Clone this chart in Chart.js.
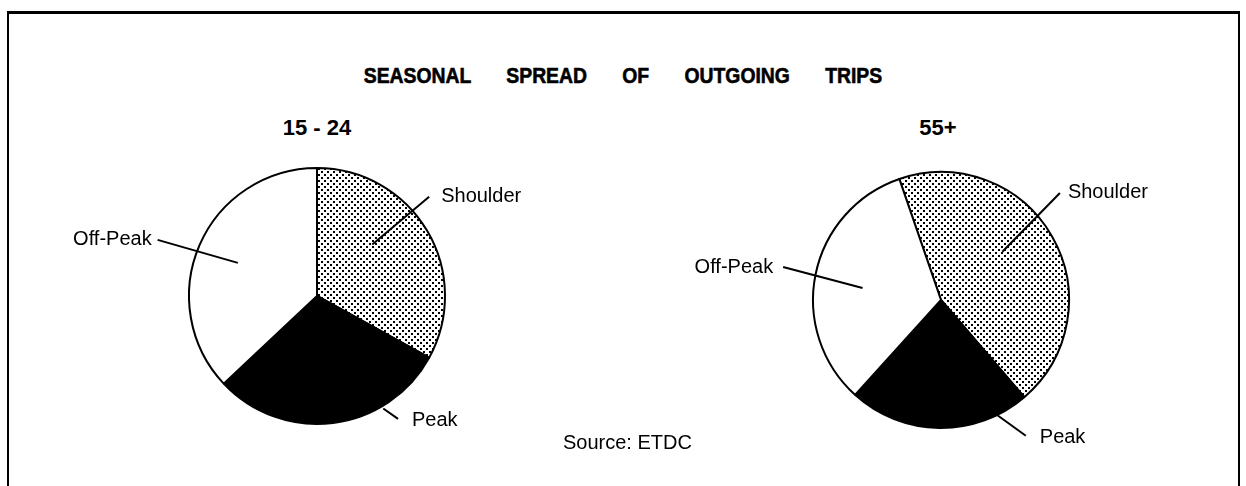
<!DOCTYPE html>
<html>
<head>
<meta charset="utf-8">
<title>Seasonal spread of outgoing trips</title>
<script src="https://cdn.jsdelivr.net/npm/chart.js@4.4.1/dist/chart.umd.min.js"></script>
<style>
    body {
        margin: 0;
        background: #fff;
    }

    #pagina {
        position: relative;
        width: 1246px;
        height: 486px;
        overflow: hidden;
        font-family: "Liberation Sans", Arial, sans-serif;
        color: #000;
    }

    #moldura {
        position: absolute;
        left: 7px;
        top: 11px;
        width: 1229px;
        height: 520px;
        border-top: 3px solid #000;
        border-left: 2px solid #000;
        border-right: 2px solid #000;
    }

    #titulo {
        position: absolute;
        top: 63px;
        left: 0;
        width: 1246px;
        text-align: center;
        font-weight: bold;
        font-size: 22px;
        word-spacing: 34px;
        -webkit-text-stroke: 0.6px #000;
        transform: scaleX(0.88);
        transform-origin: 623px 0;
    }

    .subtitulo {
        position: absolute;
        top: 115px;
        width: 200px;
        text-align: center;
        font-weight: bold;
        font-size: 22px;
    }

    #fonte {
        position: absolute;
        left: 563px;
        top: 431px;
        font-size: 20px;
    }

    canvas {
        position: absolute;
        top: 0;
    }
</style>
</head>
<body>
<div id="pagina">
    <div id="moldura"></div>
    <div id="titulo">SEASONAL SPREAD OF OUTGOING TRIPS</div>
    <div class="subtitulo" id="sub1" style="left:217px"></div>
    <div class="subtitulo" id="sub2" style="left:838px"></div>
    <canvas id="pizza1524" width="623" height="486" style="left:0"></canvas>
    <canvas id="pizza55" width="623" height="486" style="left:623px"></canvas>
    <div id="fonte">Source: ETDC</div>
</div>

<script>
/* dados (percentual de viagens) */
const categorias = ["Shoulder", "Peak", "Off-Peak"];
const valores15a24 = [33, 30, 37];
const valores55mais = [44, 23, 33];
const gruposEtarios = ["15 - 24", "55+"];

document.getElementById("sub1").innerText = gruposEtarios[0];
document.getElementById("sub2").innerText = gruposEtarios[1];

// retícula pontilhada da fatia "Shoulder"
function criarPadraoPontilhado() {
    const c = document.createElement("canvas");
    c.width = 6;
    c.height = 6;
    const ctx = c.getContext("2d");
    ctx.fillStyle = "#fff";
    ctx.fillRect(0, 0, 6, 6);
    ctx.fillStyle = "#000";
    ctx.fillRect(0, 0, 2, 2);
    ctx.fillRect(3, 3, 2, 2);
    return ctx.createPattern(c, "repeat");
}

function polar(cx, cy, r, graus) {
    const rad = graus * Math.PI / 180;
    return { x: cx + r * Math.sin(rad), y: cy - r * Math.cos(rad) };
}

// linhas guia e rótulos de cada fatia
const pluginRotulos = {
    id: "rotulosPizza",
    afterDatasetsDraw(chart, args, opts) {
        const ctx = chart.ctx;
        const arcos = chart.getDatasetMeta(0).data;

        ctx.save();
        ctx.strokeStyle = "#000";
        ctx.fillStyle = "#000";
        ctx.lineWidth = 2;
        ctx.font = "20px 'Liberation Sans', Arial, sans-serif";
        ctx.textBaseline = "middle";

        chart.data.labels.forEach((rotulo, i) => {
            const g = opts.guias[i];
            const arco = arcos[i];
            if (!g || !arco) return;

            const p1 = polar(arco.x, arco.y, arco.outerRadius * g.r1, g.a1);
            const p2 = polar(arco.x, arco.y, arco.outerRadius * g.r2, g.a2);

            ctx.beginPath();
            ctx.moveTo(p1.x, p1.y);
            ctx.lineTo(p2.x, p2.y);
            ctx.stroke();

            ctx.textAlign = g.dx < 0 ? "right" : "left";
            ctx.fillText(rotulo, p2.x + g.dx, p2.y + g.dy);
        });

        ctx.restore();
    }
};

function criarPizza(canvasId, valores, rotacao, padding, guias) {
    const canvas = document.getElementById(canvasId);

    return new Chart(canvas, {
        type: "pie",
        data: {
            labels: categorias,
            datasets: [{
                data: valores,
                backgroundColor: [criarPadraoPontilhado(), "#000", "#fff"],
                borderColor: "#000",
                borderWidth: 2
            }]
        },
        options: {
            responsive: false,
            animation: false,
            rotation: rotacao,
            radius: 128,
            layout: { padding: padding },
            plugins: {
                legend: { display: false },
                tooltip: { enabled: false },
                rotulosPizza: { guias: guias }
            }
        },
        plugins: [pluginRotulos]
    });
}

criarPizza("pizza1524", valores15a24, 0,
    { left: 187, right: 176, top: 166, bottom: 60 },
    [
        { a1: 47, r1: 0.59, a2: 48.5, r2: 1.17, dx: 12, dy: 0 },
        { a1: 149.5, r1: 1.02, a2: 146.6, r2: 1.15, dx: 14, dy: 2 },
        { a1: 292.7, r1: 0.67, a2: 289.4, r2: 1.32, dx: -6, dy: 0 }
    ]
);

criarPizza("pizza55", valores55mais, -19,
    { left: 188, right: 175, top: 170, bottom: 56 },
    [
        { a1: 51.8, r1: 0.61, a2: 48, r2: 1.25, dx: 8, dy: 0 },
        { a1: 154, r1: 1.0, a2: 148, r2: 1.25, dx: 14, dy: 2 },
        { a1: 278.7, r1: 0.62, a2: 281.8, r2: 1.26, dx: -10, dy: 0 }
    ]
);
</script>
</body>
</html>
